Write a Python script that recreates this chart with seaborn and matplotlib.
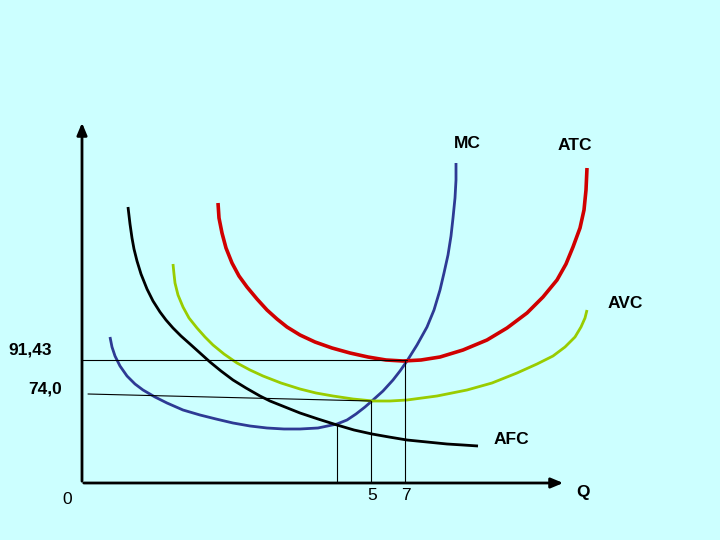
import matplotlib
matplotlib.use("Agg")
import matplotlib.pyplot as plt
import seaborn as sns
import pandas as pd

sns.set_theme(style="white")
plt.rcParams['font.family'] = ['Liberation Sans', 'DejaVu Sans']

# Curves (x, y), in image-like units (y grows downward)
mc_x = [110, 112, 115, 120, 127, 135, 143, 155, 167, 183, 200, 216, 233, 250, 267, 284, 300, 318,
        337, 347, 356, 365, 373, 383, 393, 400, 407, 417, 427, 434, 440, 444, 448, 451, 453, 455, 456, 456]
mc_y = [337, 347, 356, 366, 376, 384, 390, 397, 403, 410, 415, 419, 423, 426, 428, 429, 429, 428,
        424, 420, 414, 407, 400, 391, 380, 371, 361, 345, 327, 310, 290, 273, 255, 236, 218, 198, 180, 163]

atc_x = [218, 219, 222, 226, 232, 239, 247, 257, 267, 277, 287, 300, 315, 332, 350, 368, 386, 403,
         421, 440, 463, 487, 507, 527, 543, 557, 566, 573, 580, 584, 586, 587]
atc_y = [203, 218, 233, 248, 263, 276, 287, 299, 310, 319, 327, 335, 342, 348, 353, 357, 360, 361,
         360, 357, 350, 340, 328, 313, 297, 280, 264, 247, 228, 210, 190, 168]

avc_x = [173, 174, 175, 178, 183, 189, 197, 205, 213, 224, 237, 250, 263, 281, 300, 316, 333, 353,
         373, 390, 407, 437, 467, 492, 517, 537, 553, 565, 575, 581, 585, 587]
avc_y = [264, 274, 283, 295, 307, 318, 328, 337, 345, 354, 363, 370, 376, 383, 389, 393, 396, 399,
         401, 401, 400, 396, 390, 383, 373, 364, 356, 347, 337, 327, 318, 310]

afc_x = [128, 130, 132, 134, 137, 141, 147, 153, 160, 166, 173, 181, 190, 200, 210, 221, 233, 246,
         260, 270, 280, 290, 300, 318, 337, 354, 372, 389, 407, 427, 447, 463, 478]
afc_y = [207, 224, 238, 249, 261, 274, 289, 301, 312, 320, 328, 336, 344, 353, 362, 371, 380, 388,
         396, 401, 405, 409, 413, 419, 425, 430, 434, 437, 440, 442, 444, 445, 446]

curve_names = ["MC", "ATC", "AVC", "AFC"]
curve_colors = {"MC": "#2E3A94", "ATC": "#D00000", "AVC": "#99CC00", "AFC": "#000000"}
curve_widths = {"MC": 2.0, "ATC": 2.6, "AVC": 2.0, "AFC": 2.0}

q_ticks = [5, 7]
q_tick_pos = [371, 405]
price_labels = ["91,43", "74,0"]

fig = plt.figure(figsize=(7.2, 5.4), dpi=100)
bg = "#CCFFFF"
fig.patch.set_facecolor(bg)
ax = fig.add_axes([0, 0, 1, 1])
ax.set_facecolor(bg)
ax.set_xlim(0, 720)
ax.set_ylim(540, 0)
ax.axis("off")

data = {"MC": (mc_x, mc_y), "ATC": (atc_x, atc_y), "AVC": (avc_x, avc_y), "AFC": (afc_x, afc_y)}
for name in curve_names:
    xs, ys = data[name]
    df = pd.DataFrame({"x": xs, "y": ys})
    sns.lineplot(data=df, x="x", y="y", sort=False, ax=ax, color=curve_colors[name],
                 linewidth=curve_widths[name], estimator=None,
                 solid_joinstyle="round", solid_capstyle="butt")
ax.set_xlabel("")
ax.set_ylabel("")

# Axes with arrows
ax.annotate("", xy=(82, 120), xytext=(82, 484),
            arrowprops=dict(arrowstyle="-|>,head_length=0.6,head_width=0.25", color="black", lw=2))
ax.annotate("", xy=(566, 483), xytext=(81, 483),
            arrowprops=dict(arrowstyle="-|>,head_length=0.6,head_width=0.25", color="black", lw=2))

# Guide lines
ax.plot([82, 407], [360, 360], color="black", lw=0.8)
ax.plot([88, 371], [394, 401], color="black", lw=0.8)
ax.plot([337, 337], [424, 483], color="black", lw=0.8)
ax.plot([371, 371], [401, 483], color="black", lw=0.8)
ax.plot([405, 405], [361, 483], color="black", lw=0.8)

# Labels
lab = dict(fontsize=12.5, fontweight="bold", color="black", ha="center", va="center")
ax.text(467, 143, "MC", **lab)
ax.text(575, 146, "ATC", **lab)
ax.text(625, 303, "AVC", **lab)
ax.text(511, 440, "AFC", **lab)
ax.text(583, 492, "Q", **lab)

num = dict(fontsize=12.5, color="black", ha="center", va="center")
ax.text(67, 499, "0", **num)
for t, p in zip(q_ticks, q_tick_pos):
    ax.text(p + 1, 496, str(t), **num)
ax.text(30, 350, price_labels[0], fontweight="bold", **num)
ax.text(45, 389, price_labels[1], fontweight="bold", **num)

fig.savefig("out.png", dpi=100, facecolor=bg)
